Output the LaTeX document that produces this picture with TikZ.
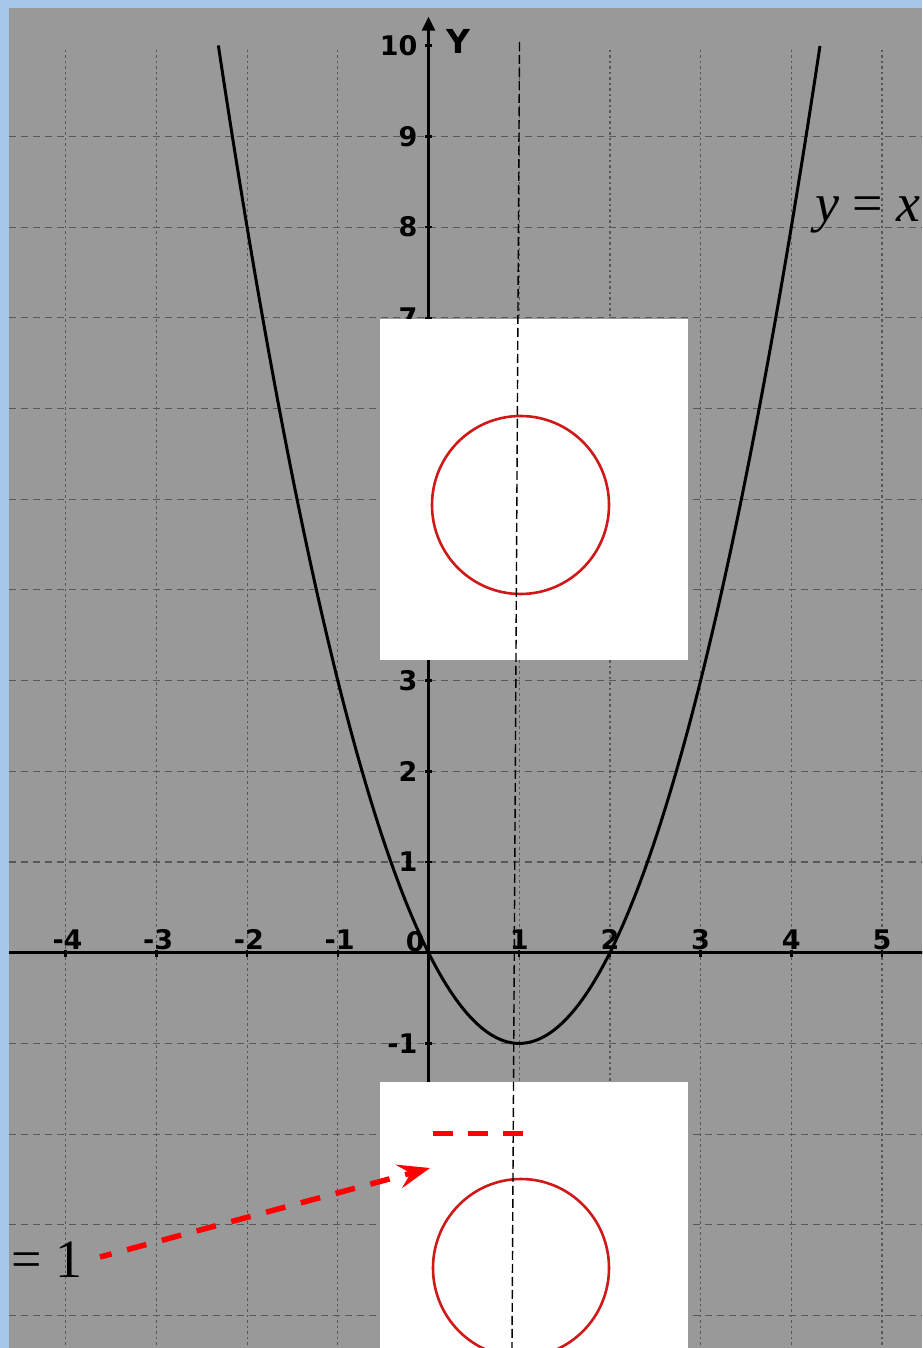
\documentclass[tikz,border=0pt]{standalone}
\usepackage{fontspec}
\setmainfont{Liberation Serif}
\newfontfamily\axisfont{DejaVu Sans}
\usetikzlibrary{arrows.meta}
\definecolor{skyblue}{RGB}{166,199,234}
\definecolor{panelgray}{RGB}{153,153,153}
\definecolor{gridgray}{RGB}{88,88,88}
\definecolor{ringred}{RGB}{208,24,24}
\begin{document}
\begin{tikzpicture}[x=1pt,y=-1pt,
  hgrid/.style={gridgray, line width=1.1pt, dash pattern=on 7pt off 5pt},
  vgrid/.style={gridgray, line width=1.2pt, dash pattern=on 2pt off 3pt on 3pt off 3pt},
  axisline/.style={black, line width=3pt},
  tickmark/.style={black, line width=2.5pt},
  ticklabel/.style={font=\axisfont\bfseries\fontsize{27}{27}\selectfont, inner sep=0pt, text=black},
  curve/.style={black, line width=3pt, line join=round},
  photo/.style={fill=white, draw=none},
  ring/.style={draw=ringred, line width=2.6pt},
  symline/.style={black, line width=1.4pt, dash pattern=on 9pt off 4pt},
  redarrow/.style={red, line width=5.5pt, dash pattern=on 20pt off 16pt, dash phase=8pt,
     -{Stealth[length=32pt,width=24pt,inset=12pt]}},
  reddash/.style={red, line width=5pt, dash pattern=on 20pt off 15pt},
  formula/.style={font=\fontsize{54}{54}\selectfont, inner sep=0pt, text=black}
]
\useasboundingbox (0,0) rectangle (922,1348);
\clip (0,0) rectangle (922,1348);
% backgrounds
\fill[skyblue] (0,0) rectangle (922,1348);
\fill[panelgray] (9,8) rectangle (922,1348);
% math coordinates
\begin{scope}[shift={(428.5pt,-952.7pt)}, x=90.7pt, y=90.7pt]
  \foreach \k in {-4,...,9} \draw[hgrid] (-4.63,\k) -- (5.45,\k);
  \foreach \k in {-4,-3,-2,-1,1,2,3,4,5} \draw[vgrid] (\k,9.95) -- (\k,-4.4);
  % axes
  \draw[axisline] (-4.63,0) -- (5.45,0);
  \draw[axisline, -{Triangle[length=14pt,width=13pt]}] (0,-4.4) -- (0,10.32);
  \foreach \k in {-4,-3,-2,-1,1,2,3,4,5} \draw[tickmark] (\k,0.03) -- (\k,-0.05);
  \foreach \k in {-1,1,2,3,7,8,9,10} \draw[tickmark] (-0.035,\k) -- (0.035,\k);
  % tick labels
  \foreach \k in {-4,-3,-2,-1} \node[ticklabel, anchor=south] (xl\k) at (\k+0.02,0.03) {-\the\numexpr-\k\relax};
  \foreach \k in {1,2,3,4,5} \node[ticklabel, anchor=south] (xl\k) at (\k,0.03) {\k};
  \node[ticklabel, anchor=south east] (origin) at (-0.04,0.01) {0};
  \foreach \k in {1,2,3,7,8,9,10} \node[ticklabel, anchor=east] (yl\k) at (-0.12,\k) {\k};
  \node[ticklabel, anchor=east] (ylm1) at (-0.12,-1) {-1};
  \node[font=\axisfont\bfseries\fontsize{33}{33}\selectfont, inner sep=0pt] (ylabel) at (0.33,10.05) {Y};
  % parabola y = x^2 - 2x
  \draw[curve] plot[domain=-2.317:4.317, samples=120, smooth] (\x,{\x*\x-2*\x});
\end{scope}
% white picture panels
\fill[photo] (380,319) rectangle (688,660);
\fill[photo] (380,1082) rectangle (688,1348);
\coordinate (ringtop) at (520.5,505);
\draw[ring] (ringtop) ellipse [x radius=88.5, y radius=89];
\coordinate (ringbottom) at (521,1268);
\draw[ring] (ringbottom) ellipse [x radius=88, y radius=89];
% axis of symmetry x = 1
\coordinate (symtop) at (519.5,42);
\coordinate (symbot) at (512,1348);
\draw[symline] (symtop) -- (symbot);
% red marks
\coordinate (dashL) at (433,1133);
\coordinate (dashR) at (524,1133);
\draw[reddash] (dashL) -- (dashR);
% formulas
\node[formula, anchor=base west] (eqcurve) at (815,222) {{\itshape y} = {\itshape x}};
\node[formula, anchor=base west] (eqline) at (11,1277) {= 1};
\coordinate (arrowStart) at (100,1257);
\coordinate (arrowEnd) at (430,1168);
\draw[redarrow] (arrowStart) -- (arrowEnd);
\end{tikzpicture}
\end{document}
